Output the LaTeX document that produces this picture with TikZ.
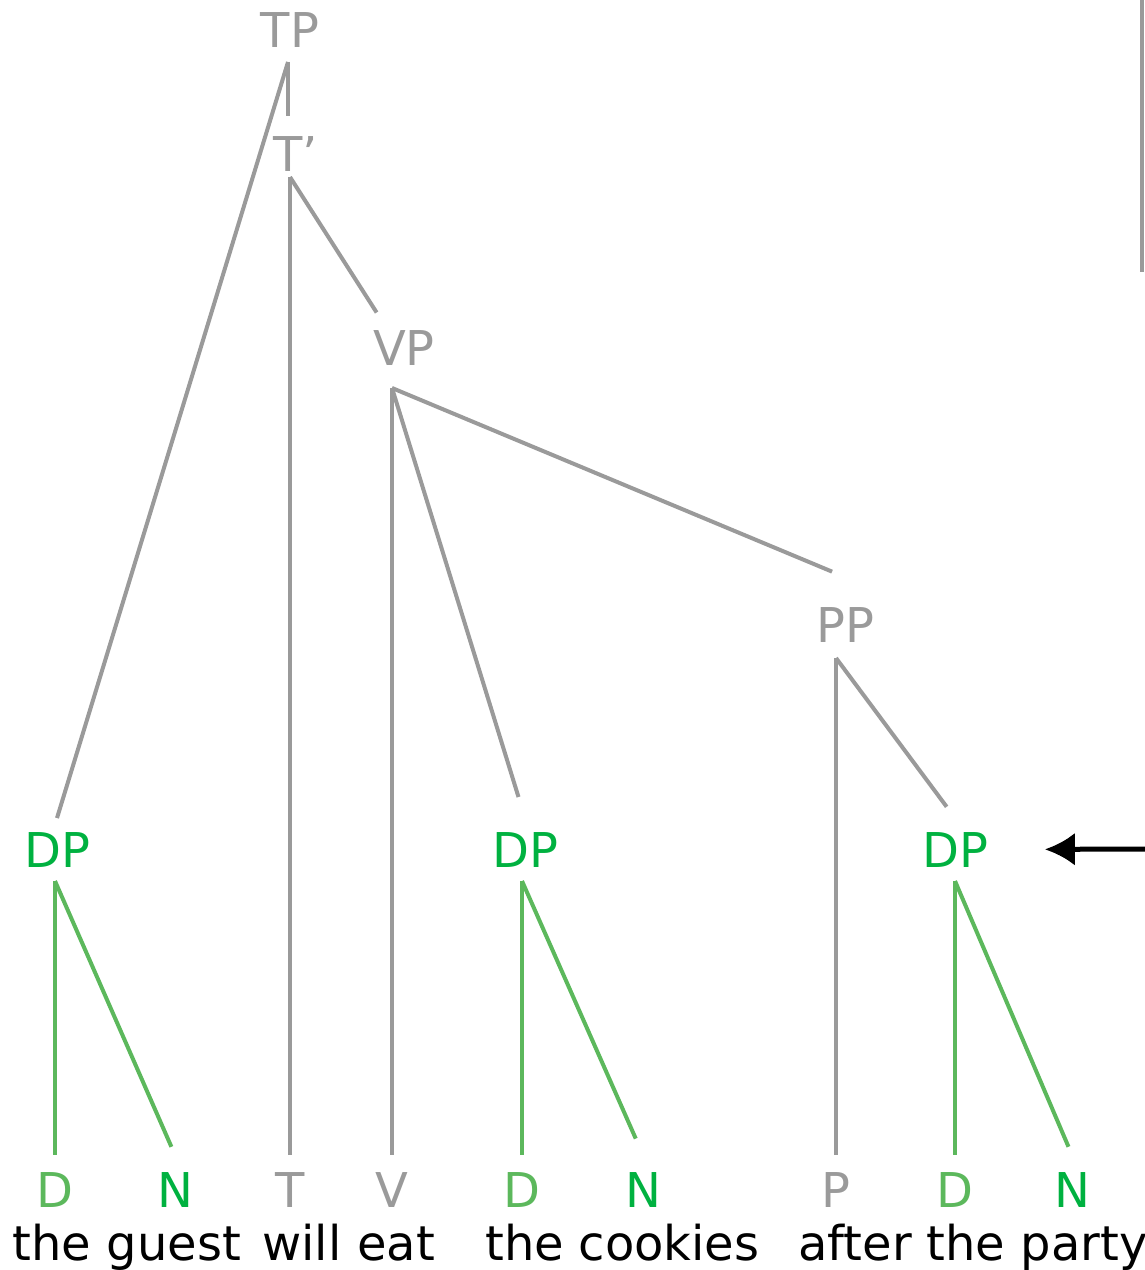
\documentclass[tikz,border=0pt]{standalone}
\usepackage{fontspec}
\setmainfont{DejaVu Sans}
\usetikzlibrary{arrows.meta}
\definecolor{catgray}{HTML}{9A9A9A}
\definecolor{dpgreen}{HTML}{00B140}
\definecolor{headgreen}{HTML}{5CB85C}

\begin{document}
\begin{tikzpicture}[x=0.02cm, y=-0.02cm,
  lbl/.style={anchor=base, inner xsep=0pt, inner ysep=0.34cm, outer sep=0pt, font=\fontsize{27.3}{33}\selectfont},
  cat/.style={lbl, text=catgray},
  dcat/.style={lbl, text=dpgreen},
  hd/.style={lbl, text=headgreen},
  word/.style={lbl, text=black},
  gline/.style={draw=catgray, line width=0.08cm},
  dline/.style={draw=headgreen, line width=0.08cm},
  pointer/.style={draw=black, line width=0.1cm, -{Latex[length=0.6cm,width=0.66cm]}}]
  \useasboundingbox (0,0) rectangle (1144,1270);

  % Phrasen
  \node[cat, inner ysep=0.28cm] (tp) at (290,48) {TP};
  \node[cat, inner ysep=0.1cm] (tbar) at (288,172) {T\rlap{’}};
  \node[cat, inner ysep=0.46cm] (vp) at (404,365) {VP};
  \node[cat, inner ysep=0.32cm] (pp) at (845,642) {PP};
  \node[dcat, inner ysep=0.28cm] (dp1) at (57,867) {DP};
  \node[dcat, inner ysep=0.28cm] (dp2) at (525,867) {DP};
  \node[dcat, inner ysep=0.28cm] (dp3) at (955,867) {DP};

  % Köpfe
  \node[hd] (d1) at (55,1207) {D};
  \node[dcat] (n1) at (175,1207) {N};
  \node[cat] (t) at (290,1207) {T};
  \node[cat] (v) at (392,1207) {V};
  \node[hd] (d2) at (522,1207) {D};
  \node[dcat] (n2) at (643,1207) {N};
  \node[cat] (p) at (836,1207) {P};
  \node[hd] (d3) at (955,1207) {D};
  \node[dcat] (n3) at (1072,1207) {N};

  % Wörter
  \node[word] (w1) at (52,1260) {the};
  \node[word] (w2) at (174,1260) {guest};
  \node[word] (w3) at (302,1260) {will};
  \node[word] (w4) at (396,1260) {eat};
  \node[word] (w5) at (525,1260) {the};
  \node[word] (w6) at (669,1260) {cookies};
  \node[word] (w7) at (855,1260) {after};
  \node[word] (w8) at (966,1260) {the};
  \node[word] (w9) at (1084,1260) {party};

  % Äste
  \draw[gline, shorten >=0.32cm] (tbar |- tp.south) -- (tbar.north);
  \draw[gline] (tbar |- tp.south) -- (dp1.north);
  \draw[gline] (t |- tbar.south) -- (t.north);
  \draw[gline, shorten >=-0.13cm] (t |- tbar.south) -- (vp.north west);
  \draw[gline] (v |- vp.south) -- (v.north);
  \draw[gline, shorten >=0.44cm] (v |- vp.south) -- (dp2.north);
  \draw[gline, shorten >=0.28cm] (v |- vp.south) -- ([yshift=0.28cm]pp.north);
  \draw[gline] (p |- pp.south) -- (p.north);
  \draw[gline, shorten >=0.28cm] (p |- pp.south) -- (dp3.north);
  \draw[dline] (d1 |- dp1.south) -- (d1.north);
  \draw[dline, shorten >=0.18cm] (d1 |- dp1.south) -- (n1.north);
  \draw[dline] (d2 |- dp2.south) -- (d2.north);
  \draw[dline, shorten >=0.36cm] (d2 |- dp2.south) -- (n2.north);
  \draw[dline] (d3 |- dp3.south) -- (d3.north);
  \draw[dline, shorten >=0.18cm] (d3 |- dp3.south) -- (n3.north);

  % Rand rechts oben
  \draw[gline] (1142,0) -- (1142,272);

  % Pfeil
  \coordinate (note) at (1160,849);
  \draw[pointer, shorten >=1.14cm] (note) -- (dp3.east);
\end{tikzpicture}
\end{document}
